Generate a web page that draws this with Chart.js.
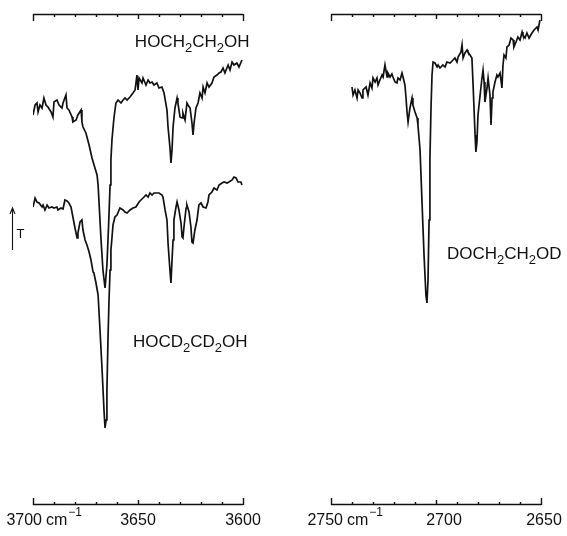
<!DOCTYPE html>
<html>
<head>
<meta charset="utf-8">
<script src="https://cdn.jsdelivr.net/npm/chart.js@4.4.1/dist/chart.umd.min.js"></script>
<style>
  html, body { margin: 0; padding: 0; background: #fff; }
  #wrap { position: relative; width: 567px; height: 536px; overflow: hidden; }
  canvas { position: absolute; top: 0; }
  #leftChart { left: 0; }
  #rightChart { left: 290px; }
</style>
</head>
<body>
<div id="wrap">
  <canvas id="leftChart" width="290" height="536"></canvas>
  <canvas id="rightChart" width="277" height="536"></canvas>
</div>
<script>
// HOCH2CH2OH (upper trace, left panel)
const hoWn = [
  3700.0, 3699.0, 3698.1, 3697.6, 3696.7, 3695.7, 3694.8, 3693.8, 3692.9, 3691.4,
  3690.5, 3690.0, 3688.6, 3687.6, 3686.2, 3685.7, 3684.3, 3683.8, 3682.9, 3681.4,
  3681.0, 3679.5, 3678.6, 3677.1, 3676.7, 3676.2, 3674.8, 3673.3, 3671.9, 3670.5,
  3669.5, 3669.0, 3667.6, 3666.7, 3665.7, 3664.8, 3664.0, 3663.3, 3662.9, 3662.4,
  3661.9, 3661.4, 3660.5, 3659.5, 3658.1, 3657.1, 3656.2, 3655.2, 3653.8, 3652.4,
  3651.4, 3650.5, 3650.0, 3649.5, 3648.1, 3647.6, 3646.2, 3645.2, 3644.3, 3643.3,
  3642.4, 3641.0, 3640.0, 3638.6, 3637.6, 3636.2, 3635.7, 3634.8, 3634.3, 3633.8,
  3633.3, 3632.4, 3631.4, 3631.0, 3630.0, 3629.0, 3628.6, 3627.6, 3626.7, 3626.2,
  3625.2, 3624.3, 3623.8, 3623.3, 3622.4, 3621.4, 3620.5, 3619.5, 3619.0, 3618.1,
  3617.1, 3616.2, 3614.8, 3613.8, 3612.4, 3611.4, 3610.5, 3609.5, 3608.6, 3607.1,
  3606.2, 3605.2, 3604.3, 3602.9, 3601.9, 3600.5
];
const hoT = [
  78.0, 80.0, 80.4, 78.6, 80.0, 79.4, 81.4, 80.0, 79.6, 78.6,
  77.6, 80.6, 81.0, 80.0, 79.4, 80.4, 82.0, 79.4, 79.0, 77.6,
  76.6, 77.0, 78.0, 79.0, 76.6, 75.6, 74.4, 72.0, 69.4, 67.4,
  66.0, 64.0, 53.0, 47.0, 43.4, 48.0, 56.0, 64.0, 69.0, 73.0,
  75.4, 77.6, 80.4, 81.0, 80.4, 81.0, 81.4, 81.0, 81.6, 82.4,
  83.0, 86.0, 83.0, 85.4, 84.4, 85.4, 84.0, 85.0, 84.4, 84.6,
  84.0, 84.4, 83.4, 83.6, 82.4, 79.0, 75.6, 71.6, 68.4, 71.0,
  75.6, 79.4, 81.4, 80.4, 77.6, 77.4, 78.4, 77.0, 80.4, 80.0,
  79.4, 76.4, 74.0, 76.4, 79.4, 80.4, 82.4, 81.4, 83.6, 82.4,
  84.4, 83.6, 84.4, 85.6, 86.0, 86.4, 86.6, 87.4, 86.4, 88.0,
  87.0, 88.6, 88.0, 88.4, 87.6, 89.0
];

// HOCD2CD2OH (lower trace, left panel)
const hodWn = [
  3700.0, 3699.0, 3698.1, 3697.1, 3695.7, 3695.2, 3694.3, 3693.3, 3692.4, 3691.0,
  3690.0, 3688.6, 3688.1, 3686.7, 3685.7, 3684.8, 3683.8, 3682.9, 3681.9, 3681.0,
  3680.0, 3679.0, 3678.6, 3677.6, 3676.7, 3676.2, 3675.2, 3674.3, 3673.3, 3672.4,
  3671.4, 3671.0, 3670.0, 3669.0, 3668.1, 3667.1, 3666.2, 3665.7, 3665.2, 3664.8,
  3664.3, 3663.8, 3663.3, 3662.9, 3662.4, 3661.9, 3661.0, 3660.0, 3658.6, 3657.1,
  3656.2, 3655.2, 3653.8, 3652.4, 3651.0, 3649.5, 3648.6, 3647.6, 3646.2, 3645.2,
  3644.3, 3643.3, 3642.4, 3641.0, 3640.0, 3638.6, 3638.1, 3637.1, 3636.2, 3635.7,
  3634.8, 3634.3, 3633.8, 3633.3, 3632.9, 3631.9, 3631.4, 3630.5, 3629.5, 3629.0,
  3628.6, 3628.1, 3627.1, 3626.7, 3625.7, 3624.8, 3624.3, 3623.8, 3622.9, 3621.9,
  3621.0, 3620.0, 3619.0, 3617.6, 3616.7, 3616.2, 3614.8, 3613.8, 3612.4, 3611.4,
  3610.0, 3609.0, 3607.6, 3606.7, 3605.2, 3604.3, 3603.3, 3602.4, 3601.0, 3600.5
];
const hodT = [
  59.6, 61.4, 60.6, 60.4, 59.6, 60.0, 59.0, 60.0, 59.4, 59.6,
  59.4, 59.6, 59.0, 59.4, 59.2, 61.0, 60.8, 60.4, 59.6, 57.6,
  55.4, 53.4, 54.4, 56.6, 57.0, 55.0, 53.0, 52.0, 50.6, 49.0,
  46.6, 46.4, 44.4, 42.0, 35.0, 27.0, 19.0, 15.4, 17.0, 23.0,
  33.0, 41.0, 47.0, 51.0, 53.4, 56.0, 57.6, 58.0, 59.4, 59.0,
  58.6, 58.4, 59.0, 59.4, 59.6, 60.6, 61.0, 61.4, 62.0, 61.6,
  62.4, 62.0, 62.4, 62.4, 62.4, 62.0, 61.6, 59.0, 57.0, 52.4,
  47.0, 44.4, 49.0, 53.0, 57.0, 59.6, 60.6, 59.0, 56.4, 53.6,
  53.4, 55.6, 59.4, 60.0, 58.6, 55.6, 52.6, 52.4, 55.0, 57.0,
  60.0, 60.4, 59.6, 59.4, 60.6, 62.0, 62.6, 63.4, 63.0, 64.0,
  64.4, 64.6, 64.4, 64.6, 65.0, 65.6, 65.4, 64.6, 64.6, 64.0
];

// DOCH2CH2OD (right panel)
const doWn = [
  2740.0, 2739.5, 2738.6, 2737.6, 2737.1, 2736.2, 2735.2, 2734.8, 2733.3, 2732.4,
  2731.4, 2730.5, 2730.0, 2729.0, 2728.1, 2727.6, 2726.7, 2725.7, 2725.2, 2724.3,
  2723.3, 2722.9, 2721.9, 2721.0, 2720.5, 2719.5, 2718.6, 2718.1, 2717.1, 2716.2,
  2715.7, 2714.8, 2714.3, 2713.8, 2713.3, 2712.4, 2711.4, 2711.0, 2710.0, 2709.0,
  2708.6, 2707.6, 2706.7, 2705.7, 2704.8, 2704.3, 2703.8, 2703.3, 2702.9, 2702.4,
  2701.9, 2701.4, 2700.5, 2699.5, 2699.0, 2698.1, 2696.7, 2695.7, 2694.8, 2693.3,
  2691.9, 2691.0, 2690.0, 2689.5, 2688.1, 2687.6, 2687.1, 2686.2, 2685.2, 2684.8,
  2683.8, 2682.9, 2682.4, 2681.9, 2681.4, 2681.0, 2680.5, 2680.0, 2679.0, 2678.1,
  2677.6, 2677.1, 2676.7, 2675.7, 2675.2, 2674.3, 2673.8, 2673.3, 2672.9, 2671.9,
  2671.0, 2670.5, 2669.5, 2668.6, 2668.1, 2667.6, 2666.7, 2666.2, 2665.2, 2664.3,
  2663.3, 2662.9, 2661.9, 2661.0, 2660.0, 2659.0, 2658.6, 2657.6, 2656.7, 2655.7,
  2654.3, 2653.3, 2651.9, 2651.4, 2650.5
];
const doT = [
  83.6, 82.0, 83.0, 81.4, 83.0, 82.4, 81.4, 83.0, 83.6, 82.0,
  84.4, 83.4, 85.4, 84.6, 85.4, 84.0, 85.0, 86.0, 85.6, 88.0,
  85.6, 86.4, 85.6, 86.2, 85.6, 84.6, 84.4, 85.4, 85.0, 86.4,
  85.6, 84.0, 81.6, 78.6, 76.6, 79.4, 81.4, 80.0, 78.6, 77.4,
  76.0, 71.0, 61.0, 50.0, 42.0, 40.4, 45.0, 57.0, 69.0, 79.0,
  86.0, 88.6, 88.4, 87.6, 88.0, 87.4, 88.0, 87.6, 88.6, 88.4,
  89.0, 89.4, 88.6, 89.6, 90.6, 92.0, 89.4, 90.4, 91.0, 90.6,
  90.0, 89.4, 84.6, 79.4, 74.0, 70.6, 72.6, 78.0, 82.0, 85.4,
  87.0, 84.6, 80.6, 83.4, 85.4, 82.0, 76.0, 81.4, 82.6, 84.6,
  86.0, 85.6, 86.4, 83.4, 88.0, 90.0, 89.4, 91.6, 92.0, 93.4,
  93.0, 91.6, 92.6, 93.6, 93.0, 94.6, 94.0, 93.4, 94.4, 93.4,
  94.4, 95.0, 95.6, 95.0, 97.0
];

const leftTicks = [3700, 3650, 3600];
const rightTicks = [2750, 2700, 2650];

const INK = '#111111';
const FONT = "'Liberation Sans', Arial, sans-serif";
const T_MAX = 98.2;

// digits in a formula are drawn as subscripts
function drawFormula(ctx, text, x, y, size) {
  let cx = x;
  for (const ch of text) {
    const sub = /\d/.test(ch);
    ctx.font = (sub ? Math.round(size * 0.75) : size) + 'px ' + FONT;
    ctx.fillText(ch, cx, sub ? y + size * 0.3 : y);
    cx += ctx.measureText(ch).width;
  }
}

const spectrumFrame = {
  id: 'spectrumFrame',
  afterDraw(chart, args, o) {
    const { ctx, chartArea: a, scales: { x, y } } = chart;
    ctx.save();
    ctx.strokeStyle = INK;
    ctx.fillStyle = INK;
    ctx.lineWidth = 1.4;

    // top and bottom rulers with inward ticks every 10 cm-1
    const top = a.top + 0.5, bot = a.bottom - 0.5;
    ctx.beginPath();
    ctx.moveTo(a.left, top); ctx.lineTo(a.right, top);
    ctx.moveTo(a.left, bot); ctx.lineTo(a.right, bot);
    for (let v = x.min; v <= x.max; v += 10) {
      const px = Math.round(x.getPixelForValue(v)) + 0.5;
      const len = (v === x.min || v === x.max) ? 7 : (v % 50 === 0 ? 5 : 3);
      ctx.moveTo(px, a.top); ctx.lineTo(px, a.top + len);
      ctx.moveTo(px, a.bottom); ctx.lineTo(px, a.bottom - len);
    }
    ctx.stroke();

    // tick labels
    const base = a.bottom + 20;
    ctx.textBaseline = 'alphabetic';
    o.ticks.forEach((v, i) => {
      const px = x.getPixelForValue(v);
      ctx.font = '16px ' + FONT;
      if (i === 0) {
        ctx.textAlign = 'right';
        const r = px + o.firstShift;
        ctx.fillText(String(v), r, base);
        ctx.textAlign = 'left';
        ctx.fillText('cm', r + 4, base);
        const w = ctx.measureText('cm').width;
        ctx.font = '12px ' + FONT;
        ctx.fillText('\u2212' + '1', r + 5 + w, base - 9);
      } else {
        ctx.textAlign = 'center';
        ctx.fillText(String(v), px + (o.shifts[i] || 0), base);
      }
    });

    // compound names, anchored in data coordinates
    ctx.textAlign = 'left';
    o.names.forEach(n => {
      drawFormula(ctx, n.text, x.getPixelForValue(n.x), y.getPixelForValue(n.y), 17);
    });

    // transmittance arrow
    if (o.arrow) {
      const ax = a.left - 20.5, y0 = 250, y1 = 208;
      ctx.lineWidth = 1.1;
      ctx.beginPath();
      ctx.moveTo(ax, y0); ctx.lineTo(ax, y1);
      ctx.moveTo(ax - 2.5, y1 + 6); ctx.lineTo(ax, y1); ctx.lineTo(ax + 2.5, y1 + 6);
      ctx.stroke();
      ctx.font = '13px ' + FONT;
      ctx.fillText('T', ax + 4, 238);
    }
    ctx.restore();
  }
};

function trace(xs, ys) {
  return {
    data: xs.map((v, i) => ({ x: v, y: ys[i] })),
    borderColor: INK,
    borderWidth: 1.7,
    pointRadius: 0,
    tension: 0,
    fill: false
  };
}

function makeSpectrum(id, xMin, xMax, datasets, padding, frame) {
  return new Chart(document.getElementById(id), {
    type: 'line',
    data: { datasets },
    options: {
      responsive: false,
      animation: false,
      layout: { padding },
      scales: {
        x: { type: 'linear', min: xMin, max: xMax, reverse: true, display: false },
        y: { min: 0, max: T_MAX, display: false }
      },
      plugins: {
        legend: { display: false },
        tooltip: { enabled: false },
        spectrumFrame: frame
      }
    },
    plugins: [spectrumFrame]
  });
}

makeSpectrum('leftChart', 3600, 3700,
  [trace(hoWn, hoT), trace(hodWn, hodT)],
  { left: 33, right: 47, top: 14, bottom: 31 },
  {
    ticks: leftTicks, firstShift: 9, shifts: [0, 0, 0], arrow: true,
    names: [
      { text: 'HOCH2CH2OH', x: 3651.5, y: 91.6 },
      { text: 'HOCD2CD2OH', x: 3652.4, y: 31.6 }
    ]
  });

makeSpectrum('rightChart', 2650, 2750,
  [trace(doWn, doT)],
  { left: 41, right: 26, top: 14, bottom: 31 },
  {
    ticks: rightTicks, firstShift: 12, shifts: [0, 8, 3], arrow: false,
    names: [
      { text: 'DOCH2CH2OD', x: 2694.8, y: 49.2 }
    ]
  });
</script>
</body>
</html>
